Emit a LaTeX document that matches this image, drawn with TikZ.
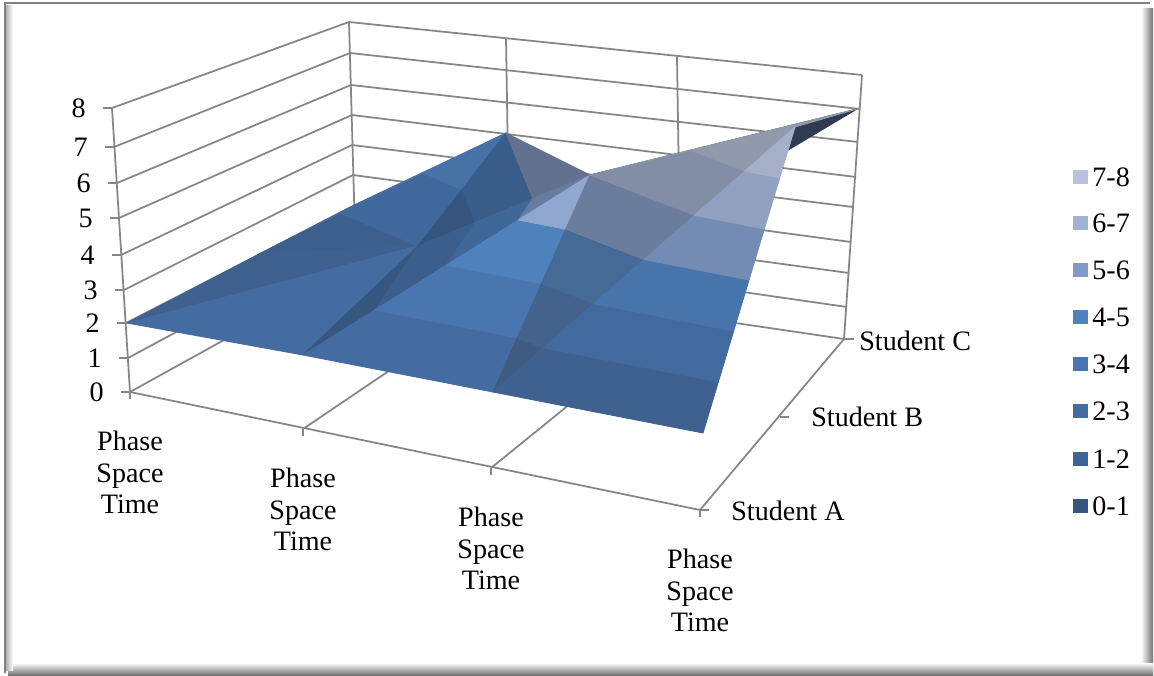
\documentclass[tikz,border=0pt]{standalone}
\usepackage{fontspec}
\setmainfont{Liberation Serif}
\usetikzlibrary{calc}

\definecolor{gridgray}{RGB}{134,134,134}
\definecolor{band78}{RGB}{183,195,221}
\definecolor{band67}{RGB}{160,178,211}
\definecolor{band56}{RGB}{129,155,200}
\definecolor{band45}{RGB}{79,129,189}
\definecolor{band34}{RGB}{74,118,176}
\definecolor{band23}{RGB}{69,108,160}
\definecolor{band12}{RGB}{62,99,150}
\definecolor{band01}{RGB}{54,85,127}
\definecolor{shadegray}{RGB}{48,48,48}
\definecolor{backface}{RGB}{47,59,80}

\newcommand\chartfont{\fontsize{16}{17.9}\selectfont}

\tikzset{
  wall line/.style={gridgray,line width=1pt},
  facet/.style={fill=#1,draw=#1,line width=0.5pt,line join=round},
  tick label/.style={font=\chartfont,inner sep=0pt}
}

\begin{document}
\begin{tikzpicture}[x=0.02cm,y=-0.02cm]
\useasboundingbox (0,0) rectangle (1154,676);

% frame with its shadow
\fill[white] (0,0) rectangle (1154,676);
\shade[left color=white,right color=black!55] (1141,8) rectangle (1153,675);
\shade[top color=white,bottom color=black!55] (8,663) rectangle (1153,675);
\shade[left color=black!30,right color=white] (6,5) rectangle (13,670);
\draw[black!50,line width=1.2pt] (5,673) -- (5,3) -- (1150,3);

% wall corners, one row per level
\foreach \k/\fx/\fy/\bx/\by/\rx/\ry in {0/130/392/356/267/844/339,1/128/358/355/236/847/307,
    2/126/323/354/206/849/273,3/124/290/353/175/851/242,4/121/255/352/145/853/207,
    5/119/218/352/115/856/177,6/117/183/351/85/858/142,7/114/147/350/53/860/109,8/112/108/349/22/862/75}{
  \coordinate (lf\k) at (\fx,\fy);
  \coordinate (lb\k) at (\bx,\by);
  \coordinate (rb\k) at (\rx,\ry);
}
\coordinate (cat0) at (130,392);
\coordinate (cat1) at (303,429);
\coordinate (cat2) at (491,468);
\coordinate (cat3) at (700,510);
\coordinate (mid1) at (510,289);
\coordinate (mid1top) at (506,38);
\coordinate (mid2) at (681,314);
\coordinate (mid2top) at (677,57);
\coordinate (stB) at (780,417);

% walls
\foreach \k in {0,...,8}
  \draw[wall line] (lf\k) -- (lb\k) -- (rb\k);
\draw[wall line] (lf0) -- (lf8) (lb0) -- (lb8) (rb0) -- (rb8) (mid1) -- (mid1top) (mid2) -- (mid2top);
% floor
\draw[wall line] (cat0) -- (cat3) -- (rb0) (cat1) -- (mid1) (cat2) -- (mid2);
% ticks
\foreach \k in {0,...,8}
  \draw[wall line] (lf\k) -- ++(-9,0);
\foreach \i in {0,...,3}
  \draw[wall line] (cat\i) -- ++(0,7);
\draw[wall line] (cat3) -- ++(9,0) (stB) -- ++(9,0) (rb0) -- ++(10,0);

% surface points (A front, C back)
\coordinate (A0) at (127,323);
\coordinate (A1) at (303,355);
\coordinate (A2) at (493,392);
\coordinate (A3) at (703,433);
\coordinate (B0) at (259,254);
\coordinate (B1) at (418,246);
\coordinate (B2) at (590,175);
\coordinate (B3) at (795,127);
\coordinate (C0) at (352,206);
\coordinate (C1) at (506,133);
\coordinate (C2) at (681,214);
\coordinate (C3) at (857,109);

% back row
\foreach \k/\col in {0/band23,1/band34,2/band45}{
  \pgfmathsetmacro\lo{\k/3}
  \pgfmathsetmacro\hi{(\k+1)/3}
  \path[facet=\col!97!black] ($(B0)!\lo!(C1)$) -- ($(C0)!\lo!(C1)$) -- ($(C0)!\hi!(C1)$) -- ($(B0)!\hi!(C1)$) -- cycle;
}
\path[facet=band23!88!black] (B0) -- (B1) -- ($(B0)!.3333!(C1)$) -- cycle;
\path[facet=band34!88!black] (B1) -- ($(B1)!.5!(C1)$) -- ($(B0)!.6667!(C1)$) -- ($(B0)!.3333!(C1)$) -- cycle;
\path[facet=band45!88!black] ($(B1)!.5!(C1)$) -- (C1) -- ($(B0)!.6667!(C1)$) -- cycle;
\path[facet=band34!72!black] (B1) -- ($(B1)!.5!(C1)$) -- ($(B1)!.3333!(B2)$) -- cycle;
\path[facet=band45!72!black] ($(B1)!.5!(C1)$) -- (C1) -- ($(B1)!.6667!(B2)$) -- ($(B1)!.3333!(B2)$) -- cycle;
\path[facet=band56!62!shadegray] (C1) -- (B2) -- ($(B1)!.6667!(B2)$) -- cycle;
\path[facet=backface] (B2) -- (C3) -- (C2) -- cycle;
\path[facet=band78!72!shadegray] (B2) -- (B3) -- (C3) -- cycle;

% front row
\path[facet=band23!90!black] (A0) -- (B1) -- (B0) -- cycle;
\path[facet=band23] (A0) -- (A1) -- (B1) -- cycle;
\path[facet=band23!80!black] (A1) -- ($(A1)!.25!(B2)$) -- (B1) -- cycle;
\path[facet=band34!80!black] (B1) -- ($(A1)!.25!(B2)$) -- ($(A1)!.5!(B2)$) -- ($(B1)!.3333!(B2)$) -- cycle;
\path[facet=band45!80!black] ($(B1)!.3333!(B2)$) -- ($(A1)!.5!(B2)$) -- ($(A1)!.75!(B2)$) -- ($(B1)!.6667!(B2)$) -- cycle;
\path[facet=band56!80!black] ($(B1)!.6667!(B2)$) -- ($(A1)!.75!(B2)$) -- (B2) -- cycle;
\foreach \k/\col in {0/band23,1/band34,2/band45,3/band56!88!white}{
  \pgfmathsetmacro\lo{\k/4}
  \pgfmathsetmacro\hi{(\k+1)/4}
  \path[facet=\col] ($(A1)!\lo!(B2)$) -- ($(A2)!\lo!(B2)$) -- ($(A2)!\hi!(B2)$) -- ($(A1)!\hi!(B2)$) -- cycle;
}
\path[facet=band23!72!shadegray] (A2) -- ($(A2)!.25!(B2)$) -- ($(A2)!.1667!(B3)$) -- cycle;
\path[facet=band34!72!shadegray] ($(A2)!.25!(B2)$) -- ($(A2)!.5!(B2)$) -- ($(A2)!.3333!(B3)$) -- ($(A2)!.1667!(B3)$) -- cycle;
\path[facet=band45!72!shadegray] ($(A2)!.5!(B2)$) -- ($(A2)!.75!(B2)$) -- ($(A2)!.5!(B3)$) -- ($(A2)!.3333!(B3)$) -- cycle;
\path[facet=band56!72!shadegray] ($(A2)!.75!(B2)$) -- (B2) -- ($(A2)!.6667!(B3)$) -- ($(A2)!.5!(B3)$) -- cycle;
\path[facet=band67!72!shadegray] (B2) -- ($(B2)!.5!(B3)$) -- ($(A2)!.8333!(B3)$) -- ($(A2)!.6667!(B3)$) -- cycle;
\path[facet=band78!72!shadegray] ($(B2)!.5!(B3)$) -- (B3) -- ($(A2)!.8333!(B3)$) -- cycle;
\foreach \k/\col in {0/band23,1/band34,2/band45,3/band56,4/band67,5/band78}{
  \pgfmathsetmacro\lo{\k/6}
  \pgfmathsetmacro\hi{(\k+1)/6}
  \path[facet=\col!90!black] ($(A2)!\lo!(B3)$) -- ($(A3)!\lo!(B3)$) -- ($(A3)!\hi!(B3)$) -- ($(A2)!\hi!(B3)$) -- cycle;
}

% axis labels
\foreach \k in {0,...,8}
  \node[tick label,anchor=east] (val\k) at ($(lf\k)+(-26,0)$) {\k};
\foreach \i in {0,...,3}
  \node[tick label,anchor=north,align=center] (phase\i) at ($(cat\i)+(0,39)$) {Phase\\Space\\Time};
\node[tick label,anchor=base west] (stuA) at (731,520) {Student A};
\node[tick label,anchor=base west] (stuB) at (811,426) {Student B};
\node[tick label,anchor=base west] (stuC) at (859,350) {Student C};

% legend
\foreach \lbl/\col/\yy in {7-8/band78/177,6-7/band67/223,5-6/band56/270,4-5/band45/317,
    3-4/band34/364,2-3/band23/411,1-2/band12/459,0-1/band01/506}{
  \fill[\col] (1073,\yy-7) rectangle (1088,\yy+7);
  \node[tick label,anchor=west] (key\col) at (1092,\yy) {\lbl};
}
\end{tikzpicture}
\end{document}
